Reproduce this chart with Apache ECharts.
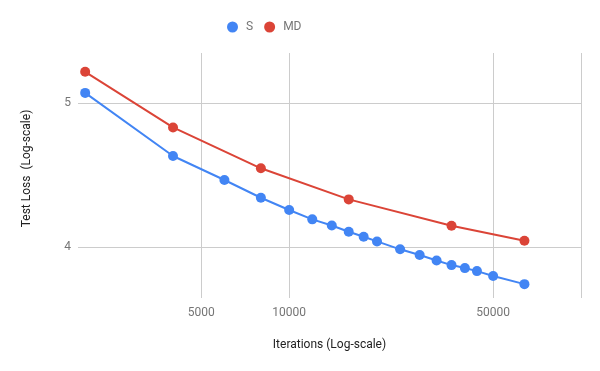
<!DOCTYPE html>
<html>
<head>
<meta charset="utf-8">
<script src="https://cdn.jsdelivr.net/npm/echarts@6/dist/echarts.min.js"></script>
<style>
    html, body { margin: 0; padding: 0; background: #fff; }
    #chart { width: 600px; height: 371px; }
</style>
</head>
<body>
<div id="chart"></div>
<script>
// values
var sIters = [2000, 4000, 6000, 8000, 10000, 12000, 14000, 16000, 18000, 20000, 24000, 28000, 32000, 36000, 40000, 44000, 50000, 64000];
var sLoss = [5.077, 4.605, 4.437, 4.317, 4.236, 4.175, 4.136, 4.096, 4.064, 4.035, 3.986, 3.951, 3.918, 3.890, 3.872, 3.854, 3.825, 3.777];

var mdIters = [2000, 4000, 8000, 16000, 36000, 64000];
var mdLoss = [5.245, 4.813, 4.518, 4.306, 4.134, 4.039];

var xTicks = [5000, 10000, 50000];
var xGrid = [5000, 10000, 50000, 100000];
var yTicks = [4, 5];

function pairs(xs, ys) {
    var out = [];
    for (var i = 0; i < xs.length; i++) {
        out.push([xs[i], ys[i]]);
    }
    return out;
}

function makeSeries(name, xs, ys, clr) {
    return {
        name: name,
        type: 'line',
        data: pairs(xs, ys),
        symbol: 'circle',
        symbolSize: 10,
        lineStyle: { width: 2, color: clr },
        itemStyle: { color: clr },
        emphasis: { disabled: true }
    };
}

var myChart = echarts.init(document.getElementById('chart'));
var option = {
    animation: false,
    textStyle: { fontFamily: 'Roboto' },
    legend: {
        top: 16,
        left: 222,
        icon: 'circle',
        itemWidth: 11,
        itemHeight: 11,
        itemGap: 11,
        textStyle: { color: '#757575', fontSize: 12, padding: [0, 0, 0, 3] },
        data: ['S', 'MD']
    },
    grid: { left: 78, right: 19, top: 53, bottom: 73, containLabel: false },
    xAxis: {
        type: 'log',
        logBase: 10,
        min: 1890,
        max: 100000,
        name: 'Iterations (Log-scale)',
        nameLocation: 'middle',
        nameGap: 41,
        nameTextStyle: { color: '#222', fontSize: 12 },
        axisLine: { show: false },
        axisTick: { show: false, customValues: xGrid },
        axisLabel: {
            customValues: xTicks,
            color: '#757575',
            fontSize: 12,
            margin: 9,
            formatter: function(v) { return String(Math.round(v)); }
        },
        splitLine: { show: true, lineStyle: { color: '#cccccc', width: 1 } }
    },
    yAxis: {
        type: 'log',
        logBase: 10,
        min: 3.697,
        max: 5.4,
        name: 'Test Loss  (Log-scale)',
        nameLocation: 'middle',
        nameGap: 45,
        nameTextStyle: { color: '#222', fontSize: 12, padding: [0, 0, 0, 14] },
        axisLine: { show: false },
        axisTick: { show: false, customValues: yTicks },
        axisLabel: { customValues: yTicks, color: '#757575', fontSize: 12, margin: 7 },
        splitLine: { show: true, lineStyle: { color: '#cccccc', width: 1 } }
    },
    series: [
        makeSeries('S', sIters, sLoss, '#4285f4'),
        makeSeries('MD', mdIters, mdLoss, '#db4437')
    ]
};

myChart.setOption(option);
</script>
</body>
</html>
